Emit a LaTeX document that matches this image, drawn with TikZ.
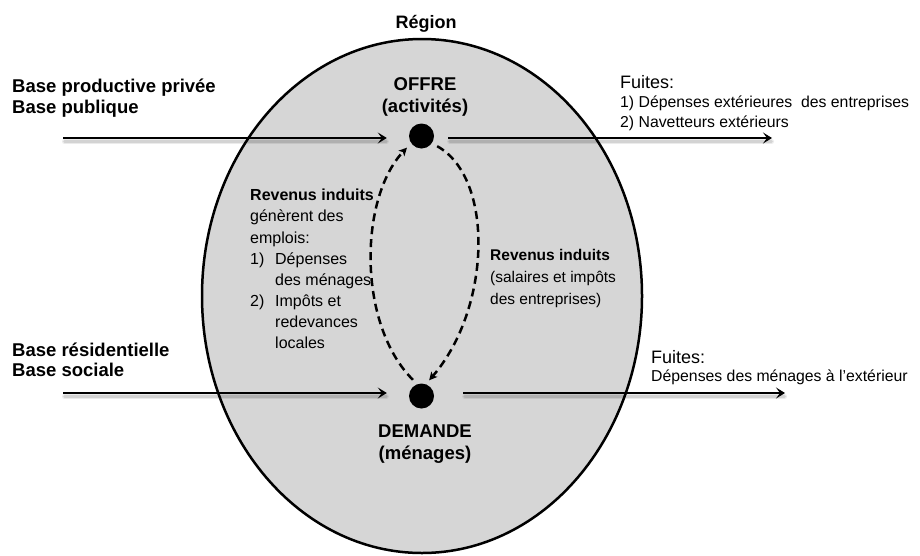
\documentclass[tikz,border=0pt]{standalone}
\usepackage{fontspec}
\setmainfont{Liberation Sans}
\usetikzlibrary{arrows.meta}
\definecolor{regfill}{RGB}{214,214,214}
\begin{document}
\begin{tikzpicture}[x=1pt,y=-1pt,
  flow/.style={line width=2.6pt,-{Stealth[length=9pt,width=11pt,inset=4pt]}},
  shad/.style={line width=5pt,draw=black,opacity=0.08,line cap=round,transform canvas={shift={(1.5pt,-3.5pt)}}},
  shadb/.style={line width=2.5pt,draw=black,opacity=0.1,line cap=round,transform canvas={shift={(1.5pt,-3.5pt)}}},
  dot/.style={circle,fill=black,draw=none,inner sep=0pt,minimum size=25pt},
  loopy/.style={line width=2.5pt,dash pattern=on 8pt off 5pt,-{Stealth[length=8pt,width=8pt,inset=2pt]}},
  lbl/.style={inner sep=0pt,align=left,anchor=west},
  ctr/.style={inner sep=0pt,align=center},
  bigb/.style={font=\bfseries\fontsize{18.5}{20.5}\selectfont},
  midr/.style={font=\fontsize{16}{21.1}\selectfont}
]
\useasboundingbox (0,0) rectangle (920,555);

% region
\draw[fill=regfill,line width=2.5pt] (422,296) ellipse [x radius=220pt, y radius=257pt];
\node[ctr,font=\bfseries\fontsize{18}{20}\selectfont] (reg) at (426,24) {Région};

% dots
\node[dot] (offre) at (421.5,136) {};
\node[dot] (demande) at (421.5,396) {};

\node[ctr,font=\bfseries\fontsize{18.5}{22.5}\selectfont] (offrelbl) at (425,97) {OFFRE\\(activités)};
\node[ctr,font=\bfseries\fontsize{18.5}{22.5}\selectfont] (demlbl) at (425,444) {DEMANDE\\(ménages)};

% endpoints
\coordinate (inA) at (63,138);
\coordinate (outA) at (772,138);
\coordinate (inB) at (63,393);
\coordinate (outB) at (785,393);

% shadows
\foreach \s in {shad,shadb}{
\draw[\s] (inA) -- ([xshift=-24pt]inA -| offre.west);
\draw[\s] ([xshift=14pt]offre.east |- outA) -- ([xshift=-2pt]outA);
\draw[\s] (inB) -- ([xshift=-24pt]inB -| demande.west);
\draw[\s] ([xshift=29pt]demande.east |- outB) -- ([xshift=-2pt]outB);
}

% flows
\draw[flow,shorten >=22pt] (inA) -- (inA -| offre.west);
\draw[flow,shorten <=14pt] (offre.east |- outA) -- (outA);
\draw[flow,shorten >=22pt] (inB) -- (inB -| demande.west);
\draw[flow,shorten <=29pt] (demande.east |- outB) -- (outB);

% induced loops
\draw[loopy,shorten <=6pt,shorten >=6pt] (demande.110) .. controls +(-60,-60) and +(-52,55) .. (offre.215);
\draw[loopy,shorten <=6pt,shorten >=5pt] (offre.-35) .. controls +(63,35) and +(65,-75) .. (demande.70);

% left labels
\node[lbl,bigb] (bpriv) at (12,98) {Base productive privée\\Base publique};
\node[lbl,bigb] (bres) at (12,360) {Base résidentielle\\Base sociale};

% leaks
\node[lbl,font=\fontsize{18}{20}\selectfont] (fuiteA) at (620,82) {Fuites:};
\node[lbl,font=\fontsize{15.8}{20}\selectfont] (fuiteAlist) at (620,113) {1) Dépenses extérieures~ des entreprises\\2) Navetteurs extérieurs};
\node[lbl,font=\fontsize{18}{20}\selectfont] (fuiteB) at (651,357) {Fuites:};
\node[lbl,font=\fontsize{15.8}{20}\selectfont] (fuiteBlist) at (651,377) {Dépenses des ménages à l'extérieur};

% induced revenue labels
\node[lbl,midr] (revL) at (250,269) {{\bfseries Revenus induits}\\génèrent des\\emplois:\\\makebox[25pt][l]{1)}Dépenses\\\hspace*{25pt}des ménages\\\makebox[25pt][l]{2)}Impôts et\\\hspace*{25pt}redevances\\\hspace*{25pt}locales};
\node[lbl,font=\fontsize{15.5}{22}\selectfont] (revR) at (490,278) {{\bfseries Revenus induits}\\(salaires et impôts\\des entreprises)};
\end{tikzpicture}
\end{document}
